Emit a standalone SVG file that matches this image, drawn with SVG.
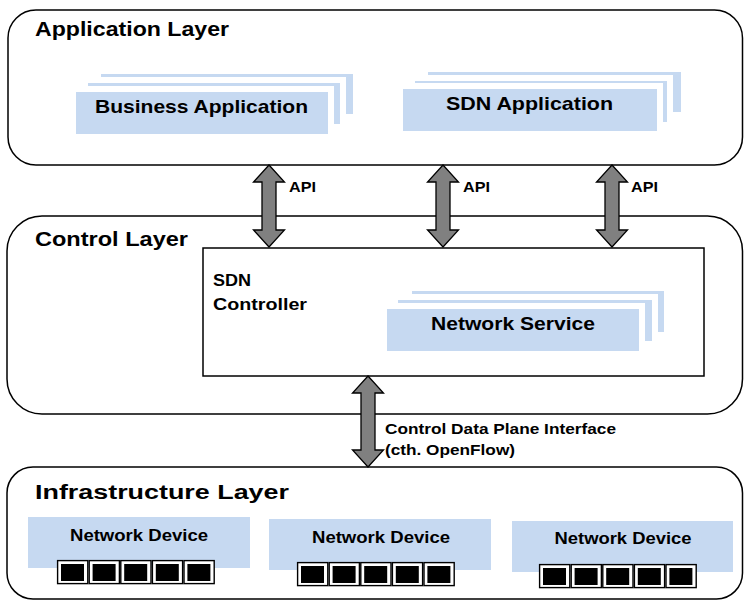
<svg xmlns="http://www.w3.org/2000/svg" xmlns:xlink="http://www.w3.org/1999/xlink" width="744" height="603" viewBox="0 0 744 603">
  <style>
    .layer { fill: #ffffff; stroke: #000000; stroke-width: 1.5; }
    .box { fill: #ffffff; stroke: #000000; stroke-width: 1.5; }
    .card { fill: #c6d9f1; }
    .halo { fill: #ffffff; }
    .dev { fill: #c6d9f1; }
    .arrow { fill: #808080; stroke: #000000; stroke-width: 1.3; stroke-linejoin: miter; }
    text { font-family: "Liberation Sans", Arial, Helvetica, sans-serif; font-weight: bold; fill: #000000; }
    .title { font-size: 20px; }
    .card-label { font-size: 18.5px; text-anchor: middle; }
    .dev-label { font-size: 16px; text-anchor: middle; }
    .small { font-size: 14px; }
    .iface { font-size: 15px; }
    .ctrl { font-size: 16px; }
  </style>
  <defs>
    <!-- one switch port: black frame, white ring, black core -->
    <g id="port">
      <rect x="0.6" y="0.6" width="30.2" height="23" fill="#ffffff" stroke="#000000" stroke-width="1.4"/>
      <rect x="4" y="4" width="23" height="17" fill="#000000"/>
    </g>
  </defs>

  <!-- Application layer -->
  <g id="application-layer">
    <rect class="layer" x="8" y="10" width="734.5" height="155" rx="28" ry="28"/>
    <text class="title" x="35" y="36" textLength="194" lengthAdjust="spacingAndGlyphs">Application Layer</text>
  </g>

  <g id="business-application">
    <rect class="card" x="101" y="74" width="252" height="40"/>
    <rect class="halo" x="88" y="77" width="258" height="47"/>
    <rect class="card" x="88" y="83" width="252" height="41"/>
    <rect class="halo" x="76" y="86" width="258" height="48"/>
    <rect class="card" x="76" y="92" width="252" height="42"/>
    <text class="card-label" x="201.5" y="113" textLength="213" lengthAdjust="spacingAndGlyphs">Business Application</text>
  </g>

  <g id="sdn-application">
    <rect class="card" x="428" y="72" width="253" height="40"/>
    <rect class="halo" x="415" y="75" width="258" height="47"/>
    <rect class="card" x="415" y="81" width="252" height="41"/>
    <rect class="halo" x="403" y="83" width="260" height="48"/>
    <rect class="card" x="403" y="89" width="254" height="42"/>
    <text class="card-label" x="529.5" y="110" textLength="167" lengthAdjust="spacingAndGlyphs">SDN Application</text>
  </g>

  <!-- Control layer -->
  <g id="control-layer">
    <rect class="layer" x="7" y="216" width="735.5" height="198" rx="35" ry="35"/>
    <text class="title" x="35" y="246" textLength="153" lengthAdjust="spacingAndGlyphs">Control Layer</text>
  </g>

  <g id="sdn-controller">
    <rect class="box" x="203" y="248" width="501" height="128"/>
    <text class="ctrl" x="213" y="286" textLength="38" lengthAdjust="spacingAndGlyphs">SDN</text>
    <text class="ctrl" x="213" y="310" textLength="94" lengthAdjust="spacingAndGlyphs">Controller</text>
  </g>

  <g id="network-service">
    <rect class="card" x="412" y="291" width="252" height="41"/>
    <rect class="halo" x="398" y="294" width="260" height="47"/>
    <rect class="card" x="398" y="300" width="254" height="41"/>
    <rect class="halo" x="387" y="303" width="258" height="48"/>
    <rect class="card" x="387" y="309" width="252" height="42"/>
    <text class="card-label" x="513" y="330" textLength="164" lengthAdjust="spacingAndGlyphs">Network Service</text>
  </g>

  <!-- Infrastructure layer -->
  <g id="infrastructure-layer">
    <rect class="layer" x="7" y="467" width="735.5" height="132" rx="26" ry="26"/>
    <text class="title" x="35" y="499" textLength="254" lengthAdjust="spacingAndGlyphs">Infrastructure Layer</text>
  </g>

  <g id="network-device-1">
    <rect class="dev" x="28" y="517" width="222" height="51"/>
    <text class="dev-label" x="139" y="541" textLength="138" lengthAdjust="spacingAndGlyphs">Network Device</text>
    <use xlink:href="#port" x="57" y="560"/>
    <use xlink:href="#port" x="88.6" y="560"/>
    <use xlink:href="#port" x="120.2" y="560"/>
    <use xlink:href="#port" x="151.8" y="560"/>
    <use xlink:href="#port" x="183.4" y="560"/>
  </g>

  <g id="network-device-2">
    <rect class="dev" x="269" y="519" width="222" height="51"/>
    <text class="dev-label" x="381" y="543" textLength="138" lengthAdjust="spacingAndGlyphs">Network Device</text>
    <use xlink:href="#port" x="297" y="562"/>
    <use xlink:href="#port" x="328.6" y="562"/>
    <use xlink:href="#port" x="360.2" y="562"/>
    <use xlink:href="#port" x="391.8" y="562"/>
    <use xlink:href="#port" x="423.4" y="562"/>
  </g>

  <g id="network-device-3">
    <rect class="dev" x="512" y="521" width="221" height="51"/>
    <text class="dev-label" x="623" y="544" textLength="137" lengthAdjust="spacingAndGlyphs">Network Device</text>
    <use xlink:href="#port" x="539" y="564"/>
    <use xlink:href="#port" x="570.6" y="564"/>
    <use xlink:href="#port" x="602.2" y="564"/>
    <use xlink:href="#port" x="633.8" y="564"/>
    <use xlink:href="#port" x="665.4" y="564"/>
  </g>

  <!-- Connectors: double-headed block arrows -->
  <g id="connectors">
    <path class="arrow" d="M269 165 L284.5 182 L276 182 L276 230 L284.5 230 L269 247 L253.5 230 L262 230 L262 182 L253.5 182 Z"/>
    <path class="arrow" d="M443 165 L458.5 182 L450 182 L450 230 L458.5 230 L443 247 L427.5 230 L436 230 L436 182 L427.5 182 Z"/>
    <path class="arrow" d="M612 165 L627.5 182 L619 182 L619 230 L627.5 230 L612 247 L596.5 230 L605 230 L605 182 L596.5 182 Z"/>
    <path class="arrow" d="M368 376 L383.5 393 L375 393 L375 450 L383.5 450 L368 467 L352.5 450 L361 450 L361 393 L352.5 393 Z"/>
    <text class="small" x="289" y="192" textLength="27" lengthAdjust="spacingAndGlyphs">API</text>
    <text class="small" x="463" y="192" textLength="27" lengthAdjust="spacingAndGlyphs">API</text>
    <text class="small" x="631" y="192" textLength="27" lengthAdjust="spacingAndGlyphs">API</text>
    <text class="iface" x="385" y="434" textLength="231" lengthAdjust="spacingAndGlyphs">Control Data Plane Interface</text>
    <text class="iface" x="385" y="455" textLength="130" lengthAdjust="spacingAndGlyphs">(cth. OpenFlow)</text>
  </g>
</svg>
